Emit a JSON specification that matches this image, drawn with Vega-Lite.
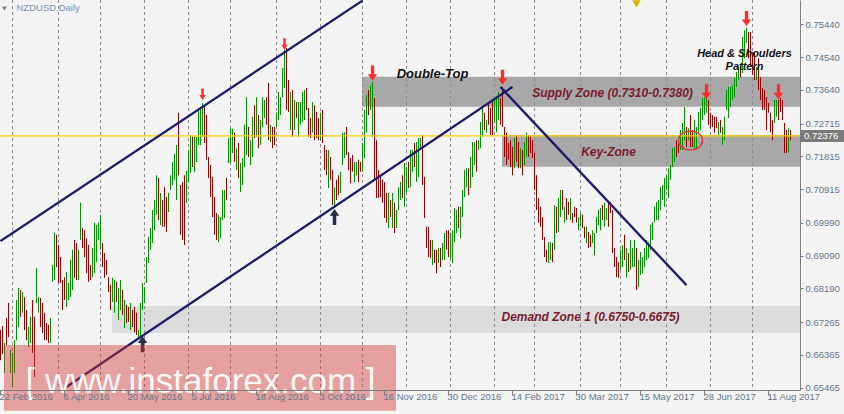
{
"$schema":"https://vega.github.io/schema/vega-lite/v6.json",
"width":800,"height":390,
"autosize":{"type":"none"},
"padding":{"left":0,"top":0,"right":44,"bottom":24},
"background":"#f4f4f4",
"config":{"view":{"stroke":null},"font":"Liberation Sans"},
"datasets":{
"bars":[
{"d":"2016-02-22","h":0.6705,"l":0.6622,"c":"d"},
{"d":"2016-02-23","h":0.6716,"l":0.6639,"c":"d"},
{"d":"2016-02-24","h":0.6669,"l":0.6587,"c":"u"},
{"d":"2016-02-25","h":0.6738,"l":0.6664,"c":"d"},
{"d":"2016-02-26","h":0.6779,"l":0.6686,"c":"d"},
{"d":"2016-02-29","h":0.6650,"l":0.6587,"c":"u"},
{"d":"2016-03-01","h":0.6642,"l":0.6548,"c":"u"},
{"d":"2016-03-02","h":0.6677,"l":0.6587,"c":"u"},
{"d":"2016-03-03","h":0.6787,"l":0.6677,"c":"u"},
{"d":"2016-03-04","h":0.6820,"l":0.6713,"c":"u"},
{"d":"2016-03-07","h":0.6815,"l":0.6741,"c":"d"},
{"d":"2016-03-08","h":0.6809,"l":0.6752,"c":"u"},
{"d":"2016-03-09","h":0.6795,"l":0.6705,"c":"d"},
{"d":"2016-03-10","h":0.6760,"l":0.6677,"c":"d"},
{"d":"2016-03-11","h":0.6713,"l":0.6658,"c":"u"},
{"d":"2016-03-14","h":0.6741,"l":0.6669,"c":"u"},
{"d":"2016-03-15","h":0.6787,"l":0.6642,"c":"d"},
{"d":"2016-03-16","h":0.6741,"l":0.6576,"c":"d"},
{"d":"2016-03-17","h":0.6875,"l":0.6779,"c":"u"},
{"d":"2016-03-18","h":0.6795,"l":0.6752,"c":"u"},
{"d":"2016-03-21","h":0.6793,"l":0.6713,"c":"d"},
{"d":"2016-03-22","h":0.6779,"l":0.6697,"c":"d"},
{"d":"2016-03-23","h":0.6752,"l":0.6677,"c":"d"},
{"d":"2016-03-24","h":0.6724,"l":0.6677,"c":"d"},
{"d":"2016-03-25","h":0.6719,"l":0.6669,"c":"d"},
{"d":"2016-03-28","h":0.6738,"l":0.6669,"c":"u"},
{"d":"2016-03-29","h":0.6883,"l":0.6837,"c":"u"},
{"d":"2016-03-30","h":0.6971,"l":0.6842,"c":"u"},
{"d":"2016-03-31","h":0.6966,"l":0.6878,"c":"d"},
{"d":"2016-04-01","h":0.6938,"l":0.6834,"c":"d"},
{"d":"2016-04-04","h":0.6905,"l":0.6834,"c":"d"},
{"d":"2016-04-05","h":0.6842,"l":0.6760,"c":"d"},
{"d":"2016-04-06","h":0.6850,"l":0.6787,"c":"d"},
{"d":"2016-04-07","h":0.6864,"l":0.6768,"c":"u"},
{"d":"2016-04-08","h":0.6834,"l":0.6787,"c":"u"},
{"d":"2016-04-11","h":0.6897,"l":0.6795,"c":"u"},
{"d":"2016-04-12","h":0.6925,"l":0.6815,"c":"u"},
{"d":"2016-04-13","h":0.6952,"l":0.6848,"c":"d"},
{"d":"2016-04-14","h":0.6944,"l":0.6842,"c":"d"},
{"d":"2016-04-15","h":0.6925,"l":0.6842,"c":"u"},
{"d":"2016-04-18","h":0.7054,"l":0.6952,"c":"u"},
{"d":"2016-04-19","h":0.6985,"l":0.6930,"c":"d"},
{"d":"2016-04-20","h":0.6979,"l":0.6905,"c":"d"},
{"d":"2016-04-21","h":0.6957,"l":0.6861,"c":"d"},
{"d":"2016-04-22","h":0.6938,"l":0.6837,"c":"d"},
{"d":"2016-04-25","h":0.6883,"l":0.6842,"c":"d"},
{"d":"2016-04-26","h":0.6930,"l":0.6850,"c":"u"},
{"d":"2016-04-27","h":0.6999,"l":0.6861,"c":"u"},
{"d":"2016-04-28","h":0.6993,"l":0.6891,"c":"u"},
{"d":"2016-04-29","h":0.6999,"l":0.6952,"c":"u"},
{"d":"2016-05-02","h":0.7021,"l":0.6925,"c":"u"},
{"d":"2016-05-03","h":0.6944,"l":0.6878,"c":"d"},
{"d":"2016-05-04","h":0.6916,"l":0.6848,"c":"d"},
{"d":"2016-05-05","h":0.6897,"l":0.6856,"c":"d"},
{"d":"2016-05-06","h":0.6850,"l":0.6809,"c":"d"},
{"d":"2016-05-09","h":0.6829,"l":0.6760,"c":"d"},
{"d":"2016-05-10","h":0.6848,"l":0.6782,"c":"u"},
{"d":"2016-05-11","h":0.6842,"l":0.6752,"c":"u"},
{"d":"2016-05-12","h":0.6837,"l":0.6782,"c":"d"},
{"d":"2016-05-13","h":0.6820,"l":0.6732,"c":"u"},
{"d":"2016-05-16","h":0.6842,"l":0.6760,"c":"u"},
{"d":"2016-05-17","h":0.6815,"l":0.6746,"c":"d"},
{"d":"2016-05-18","h":0.6787,"l":0.6710,"c":"u"},
{"d":"2016-05-19","h":0.6774,"l":0.6724,"c":"d"},
{"d":"2016-05-20","h":0.6768,"l":0.6727,"c":"d"},
{"d":"2016-05-23","h":0.6779,"l":0.6705,"c":"u"},
{"d":"2016-05-24","h":0.6760,"l":0.6713,"c":"d"},
{"d":"2016-05-25","h":0.6768,"l":0.6699,"c":"d"},
{"d":"2016-05-26","h":0.6752,"l":0.6691,"c":"d"},
{"d":"2016-05-27","h":0.6705,"l":0.6686,"c":"u"},
{"d":"2016-05-30","h":0.6779,"l":0.6683,"c":"u"},
{"d":"2016-05-31","h":0.6834,"l":0.6760,"c":"u"},
{"d":"2016-06-01","h":0.6823,"l":0.6779,"c":"u"},
{"d":"2016-06-02","h":0.6905,"l":0.6834,"c":"u"},
{"d":"2016-06-03","h":0.6960,"l":0.6889,"c":"u"},
{"d":"2016-06-06","h":0.6985,"l":0.6925,"c":"u"},
{"d":"2016-06-07","h":0.7034,"l":0.6944,"c":"u"},
{"d":"2016-06-08","h":0.7062,"l":0.6979,"c":"u"},
{"d":"2016-06-09","h":0.7130,"l":0.7021,"c":"u"},
{"d":"2016-06-10","h":0.7122,"l":0.7007,"c":"d"},
{"d":"2016-06-13","h":0.7081,"l":0.6993,"c":"u"},
{"d":"2016-06-14","h":0.7062,"l":0.6988,"c":"d"},
{"d":"2016-06-15","h":0.7097,"l":0.6988,"c":"d"},
{"d":"2016-06-16","h":0.7070,"l":0.6974,"c":"d"},
{"d":"2016-06-17","h":0.7081,"l":0.7029,"c":"u"},
{"d":"2016-06-20","h":0.7130,"l":0.7089,"c":"u"},
{"d":"2016-06-21","h":0.7166,"l":0.7103,"c":"u"},
{"d":"2016-06-22","h":0.7188,"l":0.7117,"c":"u"},
{"d":"2016-06-23","h":0.7213,"l":0.7062,"c":"u"},
{"d":"2016-06-24","h":0.7301,"l":0.7130,"c":"d"},
{"d":"2016-06-27","h":0.7103,"l":0.6966,"c":"d"},
{"d":"2016-06-28","h":0.7111,"l":0.6952,"c":"d"},
{"d":"2016-06-29","h":0.7130,"l":0.6938,"c":"d"},
{"d":"2016-06-30","h":0.7142,"l":0.7054,"c":"u"},
{"d":"2016-07-01","h":0.7199,"l":0.7111,"c":"u"},
{"d":"2016-07-04","h":0.7240,"l":0.7136,"c":"u"},
{"d":"2016-07-05","h":0.7235,"l":0.7152,"c":"d"},
{"d":"2016-07-06","h":0.7235,"l":0.7138,"c":"u"},
{"d":"2016-07-07","h":0.7235,"l":0.7166,"c":"u"},
{"d":"2016-07-08","h":0.7309,"l":0.7213,"c":"u"},
{"d":"2016-07-11","h":0.7317,"l":0.7213,"c":"u"},
{"d":"2016-07-12","h":0.7328,"l":0.7235,"c":"u"},
{"d":"2016-07-13","h":0.7322,"l":0.7218,"c":"d"},
{"d":"2016-07-14","h":0.7295,"l":0.7172,"c":"d"},
{"d":"2016-07-15","h":0.7180,"l":0.7122,"c":"d"},
{"d":"2016-07-18","h":0.7158,"l":0.7070,"c":"d"},
{"d":"2016-07-19","h":0.7125,"l":0.7015,"c":"d"},
{"d":"2016-07-20","h":0.7070,"l":0.6966,"c":"d"},
{"d":"2016-07-21","h":0.7026,"l":0.6952,"c":"d"},
{"d":"2016-07-22","h":0.7021,"l":0.6946,"c":"u"},
{"d":"2016-07-25","h":0.7015,"l":0.6957,"c":"u"},
{"d":"2016-07-26","h":0.7089,"l":0.7007,"c":"u"},
{"d":"2016-07-27","h":0.7089,"l":0.7012,"c":"u"},
{"d":"2016-07-28","h":0.7122,"l":0.7062,"c":"d"},
{"d":"2016-07-29","h":0.7232,"l":0.7163,"c":"u"},
{"d":"2016-08-01","h":0.7259,"l":0.7166,"c":"u"},
{"d":"2016-08-02","h":0.7257,"l":0.7191,"c":"u"},
{"d":"2016-08-03","h":0.7246,"l":0.7166,"c":"d"},
{"d":"2016-08-04","h":0.7204,"l":0.7144,"c":"u"},
{"d":"2016-08-05","h":0.7218,"l":0.7122,"c":"d"},
{"d":"2016-08-08","h":0.7163,"l":0.7084,"c":"u"},
{"d":"2016-08-09","h":0.7177,"l":0.7103,"c":"u"},
{"d":"2016-08-10","h":0.7268,"l":0.7152,"c":"u"},
{"d":"2016-08-11","h":0.7344,"l":0.7185,"c":"u"},
{"d":"2016-08-12","h":0.7262,"l":0.7180,"c":"d"},
{"d":"2016-08-15","h":0.7226,"l":0.7158,"c":"u"},
{"d":"2016-08-16","h":0.7290,"l":0.7180,"c":"u"},
{"d":"2016-08-17","h":0.7322,"l":0.7232,"c":"d"},
{"d":"2016-08-18","h":0.7344,"l":0.7235,"c":"u"},
{"d":"2016-08-19","h":0.7295,"l":0.7204,"c":"d"},
{"d":"2016-08-22","h":0.7281,"l":0.7213,"c":"u"},
{"d":"2016-08-23","h":0.7344,"l":0.7262,"c":"u"},
{"d":"2016-08-24","h":0.7336,"l":0.7287,"c":"u"},
{"d":"2016-08-25","h":0.7344,"l":0.7268,"c":"d"},
{"d":"2016-08-26","h":0.7383,"l":0.7226,"c":"d"},
{"d":"2016-08-29","h":0.7268,"l":0.7221,"c":"u"},
{"d":"2016-08-30","h":0.7262,"l":0.7204,"c":"d"},
{"d":"2016-08-31","h":0.7262,"l":0.7213,"c":"d"},
{"d":"2016-09-01","h":0.7301,"l":0.7262,"c":"u"},
{"d":"2016-09-02","h":0.7358,"l":0.7281,"c":"u"},
{"d":"2016-09-05","h":0.7344,"l":0.7295,"c":"u"},
{"d":"2016-09-06","h":0.7424,"l":0.7344,"c":"u"},
{"d":"2016-09-07","h":0.7474,"l":0.7369,"c":"u"},
{"d":"2016-09-08","h":0.7479,"l":0.7309,"c":"d"},
{"d":"2016-09-09","h":0.7391,"l":0.7303,"c":"d"},
{"d":"2016-09-12","h":0.7358,"l":0.7254,"c":"u"},
{"d":"2016-09-13","h":0.7364,"l":0.7235,"c":"d"},
{"d":"2016-09-14","h":0.7336,"l":0.7254,"c":"u"},
{"d":"2016-09-15","h":0.7331,"l":0.7287,"c":"d"},
{"d":"2016-09-16","h":0.7331,"l":0.7235,"c":"u"},
{"d":"2016-09-19","h":0.7331,"l":0.7268,"c":"u"},
{"d":"2016-09-20","h":0.7358,"l":0.7276,"c":"u"},
{"d":"2016-09-21","h":0.7364,"l":0.7281,"c":"u"},
{"d":"2016-09-22","h":0.7369,"l":0.7309,"c":"d"},
{"d":"2016-09-23","h":0.7314,"l":0.7235,"c":"d"},
{"d":"2016-09-26","h":0.7287,"l":0.7232,"c":"d"},
{"d":"2016-09-27","h":0.7331,"l":0.7246,"c":"u"},
{"d":"2016-09-28","h":0.7322,"l":0.7226,"c":"d"},
{"d":"2016-09-29","h":0.7303,"l":0.7232,"c":"d"},
{"d":"2016-09-30","h":0.7287,"l":0.7226,"c":"d"},
{"d":"2016-10-03","h":0.7301,"l":0.7226,"c":"u"},
{"d":"2016-10-04","h":0.7309,"l":0.7218,"c":"d"},
{"d":"2016-10-05","h":0.7213,"l":0.7144,"c":"d"},
{"d":"2016-10-06","h":0.7199,"l":0.7130,"c":"d"},
{"d":"2016-10-07","h":0.7199,"l":0.7095,"c":"u"},
{"d":"2016-10-10","h":0.7180,"l":0.7117,"c":"d"},
{"d":"2016-10-11","h":0.7144,"l":0.7048,"c":"d"},
{"d":"2016-10-12","h":0.7097,"l":0.7040,"c":"u"},
{"d":"2016-10-13","h":0.7117,"l":0.7062,"c":"d"},
{"d":"2016-10-14","h":0.7130,"l":0.7075,"c":"d"},
{"d":"2016-10-17","h":0.7139,"l":0.7081,"c":"u"},
{"d":"2016-10-18","h":0.7246,"l":0.7158,"c":"u"},
{"d":"2016-10-19","h":0.7248,"l":0.7177,"c":"u"},
{"d":"2016-10-20","h":0.7262,"l":0.7185,"c":"d"},
{"d":"2016-10-21","h":0.7193,"l":0.7144,"c":"d"},
{"d":"2016-10-24","h":0.7177,"l":0.7108,"c":"d"},
{"d":"2016-10-25","h":0.7185,"l":0.7139,"c":"d"},
{"d":"2016-10-26","h":0.7166,"l":0.7111,"c":"u"},
{"d":"2016-10-27","h":0.7166,"l":0.7130,"c":"u"},
{"d":"2016-10-28","h":0.7172,"l":0.7111,"c":"d"},
{"d":"2016-10-31","h":0.7166,"l":0.7139,"c":"d"},
{"d":"2016-11-01","h":0.7218,"l":0.7139,"c":"u"},
{"d":"2016-11-02","h":0.7309,"l":0.7177,"c":"u"},
{"d":"2016-11-03","h":0.7350,"l":0.7246,"c":"u"},
{"d":"2016-11-04","h":0.7364,"l":0.7295,"c":"d"},
{"d":"2016-11-07","h":0.7377,"l":0.7309,"c":"u"},
{"d":"2016-11-08","h":0.7386,"l":0.7235,"c":"u"},
{"d":"2016-11-09","h":0.7342,"l":0.7117,"c":"d"},
{"d":"2016-11-10","h":0.7226,"l":0.7067,"c":"d"},
{"d":"2016-11-11","h":0.7144,"l":0.7067,"c":"d"},
{"d":"2016-11-14","h":0.7125,"l":0.7070,"c":"d"},
{"d":"2016-11-15","h":0.7117,"l":0.7054,"c":"d"},
{"d":"2016-11-16","h":0.7111,"l":0.7012,"c":"d"},
{"d":"2016-11-17","h":0.7081,"l":0.6999,"c":"d"},
{"d":"2016-11-18","h":0.7081,"l":0.6985,"c":"u"},
{"d":"2016-11-21","h":0.7062,"l":0.7015,"c":"d"},
{"d":"2016-11-22","h":0.7081,"l":0.6985,"c":"u"},
{"d":"2016-11-23","h":0.7054,"l":0.6971,"c":"d"},
{"d":"2016-11-24","h":0.7034,"l":0.6985,"c":"u"},
{"d":"2016-11-25","h":0.7097,"l":0.7034,"c":"u"},
{"d":"2016-11-28","h":0.7111,"l":0.7062,"c":"u"},
{"d":"2016-11-29","h":0.7130,"l":0.7067,"c":"d"},
{"d":"2016-11-30","h":0.7163,"l":0.7043,"c":"u"},
{"d":"2016-12-01","h":0.7152,"l":0.7084,"c":"u"},
{"d":"2016-12-02","h":0.7166,"l":0.7095,"c":"d"},
{"d":"2016-12-05","h":0.7199,"l":0.7097,"c":"u"},
{"d":"2016-12-06","h":0.7199,"l":0.7139,"c":"u"},
{"d":"2016-12-07","h":0.7218,"l":0.7152,"c":"d"},
{"d":"2016-12-08","h":0.7221,"l":0.7111,"c":"u"},
{"d":"2016-12-09","h":0.7232,"l":0.7125,"c":"u"},
{"d":"2016-12-12","h":0.7232,"l":0.7199,"c":"u"},
{"d":"2016-12-13","h":0.7240,"l":0.7103,"c":"d"},
{"d":"2016-12-14","h":0.7125,"l":0.7012,"c":"d"},
{"d":"2016-12-15","h":0.6988,"l":0.6930,"c":"d"},
{"d":"2016-12-16","h":0.6988,"l":0.6905,"c":"d"},
{"d":"2016-12-19","h":0.6952,"l":0.6902,"c":"d"},
{"d":"2016-12-20","h":0.6952,"l":0.6883,"c":"u"},
{"d":"2016-12-21","h":0.6925,"l":0.6889,"c":"d"},
{"d":"2016-12-22","h":0.6925,"l":0.6861,"c":"d"},
{"d":"2016-12-23","h":0.6930,"l":0.6889,"c":"u"},
{"d":"2016-12-26","h":0.6930,"l":0.6878,"c":"d"},
{"d":"2016-12-27","h":0.6944,"l":0.6897,"c":"u"},
{"d":"2016-12-28","h":0.6971,"l":0.6897,"c":"u"},
{"d":"2016-12-29","h":0.6979,"l":0.6925,"c":"d"},
{"d":"2016-12-30","h":0.6979,"l":0.6905,"c":"d"},
{"d":"2017-01-02","h":0.6971,"l":0.6902,"c":"u"},
{"d":"2017-01-03","h":0.6979,"l":0.6889,"c":"u"},
{"d":"2017-01-04","h":0.7040,"l":0.6946,"c":"u"},
{"d":"2017-01-05","h":0.7034,"l":0.6971,"c":"u"},
{"d":"2017-01-06","h":0.7043,"l":0.6985,"c":"d"},
{"d":"2017-01-09","h":0.7043,"l":0.6957,"c":"u"},
{"d":"2017-01-10","h":0.7089,"l":0.7015,"c":"u"},
{"d":"2017-01-11","h":0.7144,"l":0.7070,"c":"u"},
{"d":"2017-01-12","h":0.7149,"l":0.7097,"c":"u"},
{"d":"2017-01-13","h":0.7149,"l":0.7075,"c":"d"},
{"d":"2017-01-16","h":0.7180,"l":0.7095,"c":"u"},
{"d":"2017-01-17","h":0.7221,"l":0.7125,"c":"u"},
{"d":"2017-01-18","h":0.7221,"l":0.7158,"c":"u"},
{"d":"2017-01-19","h":0.7226,"l":0.7139,"c":"d"},
{"d":"2017-01-20","h":0.7226,"l":0.7199,"c":"u"},
{"d":"2017-01-23","h":0.7276,"l":0.7204,"c":"u"},
{"d":"2017-01-24","h":0.7314,"l":0.7235,"c":"u"},
{"d":"2017-01-25","h":0.7301,"l":0.7254,"c":"d"},
{"d":"2017-01-26","h":0.7281,"l":0.7246,"c":"u"},
{"d":"2017-01-27","h":0.7328,"l":0.7268,"c":"d"},
{"d":"2017-01-30","h":0.7314,"l":0.7240,"c":"d"},
{"d":"2017-01-31","h":0.7336,"l":0.7240,"c":"d"},
{"d":"2017-02-01","h":0.7336,"l":0.7273,"c":"u"},
{"d":"2017-02-02","h":0.7344,"l":0.7248,"c":"u"},
{"d":"2017-02-03","h":0.7358,"l":0.7281,"c":"u"},
{"d":"2017-02-06","h":0.7342,"l":0.7268,"c":"d"},
{"d":"2017-02-07","h":0.7372,"l":0.7262,"c":"d"},
{"d":"2017-02-08","h":0.7262,"l":0.7180,"c":"d"},
{"d":"2017-02-09","h":0.7246,"l":0.7158,"c":"d"},
{"d":"2017-02-10","h":0.7218,"l":0.7172,"c":"d"},
{"d":"2017-02-13","h":0.7226,"l":0.7152,"c":"d"},
{"d":"2017-02-14","h":0.7207,"l":0.7130,"c":"d"},
{"d":"2017-02-15","h":0.7232,"l":0.7149,"c":"u"},
{"d":"2017-02-16","h":0.7240,"l":0.7166,"c":"d"},
{"d":"2017-02-17","h":0.7221,"l":0.7149,"c":"d"},
{"d":"2017-02-20","h":0.7204,"l":0.7149,"c":"u"},
{"d":"2017-02-21","h":0.7199,"l":0.7130,"c":"d"},
{"d":"2017-02-22","h":0.7221,"l":0.7158,"c":"u"},
{"d":"2017-02-23","h":0.7246,"l":0.7180,"c":"u"},
{"d":"2017-02-24","h":0.7240,"l":0.7180,"c":"d"},
{"d":"2017-02-27","h":0.7235,"l":0.7191,"c":"d"},
{"d":"2017-02-28","h":0.7226,"l":0.7177,"c":"d"},
{"d":"2017-03-01","h":0.7191,"l":0.7089,"c":"d"},
{"d":"2017-03-02","h":0.7130,"l":0.7034,"c":"d"},
{"d":"2017-03-03","h":0.7067,"l":0.6999,"c":"d"},
{"d":"2017-03-06","h":0.7043,"l":0.6988,"c":"d"},
{"d":"2017-03-07","h":0.7015,"l":0.6952,"c":"d"},
{"d":"2017-03-08","h":0.6960,"l":0.6905,"c":"d"},
{"d":"2017-03-09","h":0.6925,"l":0.6891,"c":"d"},
{"d":"2017-03-10","h":0.6946,"l":0.6889,"c":"u"},
{"d":"2017-03-13","h":0.6946,"l":0.6897,"c":"u"},
{"d":"2017-03-14","h":0.6944,"l":0.6891,"c":"d"},
{"d":"2017-03-15","h":0.7048,"l":0.6925,"c":"u"},
{"d":"2017-03-16","h":0.7043,"l":0.6971,"c":"d"},
{"d":"2017-03-17","h":0.7067,"l":0.6974,"c":"u"},
{"d":"2017-03-20","h":0.7089,"l":0.7015,"c":"u"},
{"d":"2017-03-21","h":0.7089,"l":0.7034,"c":"d"},
{"d":"2017-03-22","h":0.7043,"l":0.6999,"c":"u"},
{"d":"2017-03-23","h":0.7067,"l":0.7007,"c":"d"},
{"d":"2017-03-24","h":0.7056,"l":0.7021,"c":"d"},
{"d":"2017-03-27","h":0.7067,"l":0.7007,"c":"u"},
{"d":"2017-03-28","h":0.7026,"l":0.6999,"c":"d"},
{"d":"2017-03-29","h":0.7043,"l":0.7015,"c":"d"},
{"d":"2017-03-30","h":0.7040,"l":0.6999,"c":"d"},
{"d":"2017-03-31","h":0.7015,"l":0.6979,"c":"u"},
{"d":"2017-04-03","h":0.7026,"l":0.6988,"c":"u"},
{"d":"2017-04-04","h":0.7021,"l":0.6985,"c":"d"},
{"d":"2017-04-05","h":0.6988,"l":0.6957,"c":"d"},
{"d":"2017-04-06","h":0.6988,"l":0.6944,"c":"u"},
{"d":"2017-04-07","h":0.6974,"l":0.6930,"c":"d"},
{"d":"2017-04-10","h":0.6966,"l":0.6933,"c":"d"},
{"d":"2017-04-11","h":0.6979,"l":0.6944,"c":"u"},
{"d":"2017-04-12","h":0.6971,"l":0.6911,"c":"u"},
{"d":"2017-04-13","h":0.7015,"l":0.6971,"c":"u"},
{"d":"2017-04-14","h":0.7034,"l":0.6993,"c":"u"},
{"d":"2017-04-17","h":0.7040,"l":0.6979,"c":"u"},
{"d":"2017-04-18","h":0.7048,"l":0.7007,"c":"d"},
{"d":"2017-04-19","h":0.7054,"l":0.6988,"c":"u"},
{"d":"2017-04-20","h":0.7040,"l":0.7007,"c":"u"},
{"d":"2017-04-21","h":0.7054,"l":0.6988,"c":"d"},
{"d":"2017-04-24","h":0.7056,"l":0.7026,"c":"d"},
{"d":"2017-04-25","h":0.7034,"l":0.6916,"c":"d"},
{"d":"2017-04-26","h":0.6930,"l":0.6878,"c":"d"},
{"d":"2017-04-27","h":0.6905,"l":0.6850,"c":"d"},
{"d":"2017-04-28","h":0.6891,"l":0.6848,"c":"d"},
{"d":"2017-05-01","h":0.6925,"l":0.6870,"c":"u"},
{"d":"2017-05-02","h":0.6938,"l":0.6878,"c":"u"},
{"d":"2017-05-03","h":0.6966,"l":0.6897,"c":"d"},
{"d":"2017-05-04","h":0.6930,"l":0.6848,"c":"u"},
{"d":"2017-05-05","h":0.6916,"l":0.6864,"c":"d"},
{"d":"2017-05-08","h":0.6952,"l":0.6870,"c":"u"},
{"d":"2017-05-09","h":0.6930,"l":0.6878,"c":"u"},
{"d":"2017-05-10","h":0.6952,"l":0.6878,"c":"u"},
{"d":"2017-05-11","h":0.6930,"l":0.6815,"c":"d"},
{"d":"2017-05-12","h":0.6897,"l":0.6823,"c":"u"},
{"d":"2017-05-15","h":0.6919,"l":0.6856,"c":"u"},
{"d":"2017-05-16","h":0.6905,"l":0.6861,"c":"u"},
{"d":"2017-05-17","h":0.6930,"l":0.6878,"c":"u"},
{"d":"2017-05-18","h":0.6952,"l":0.6897,"c":"u"},
{"d":"2017-05-19","h":0.6946,"l":0.6902,"c":"u"},
{"d":"2017-05-22","h":0.6993,"l":0.6925,"c":"u"},
{"d":"2017-05-23","h":0.7001,"l":0.6952,"c":"u"},
{"d":"2017-05-24","h":0.7043,"l":0.7001,"c":"u"},
{"d":"2017-05-25","h":0.7056,"l":0.7007,"c":"u"},
{"d":"2017-05-26","h":0.7062,"l":0.7007,"c":"u"},
{"d":"2017-05-29","h":0.7097,"l":0.7034,"c":"u"},
{"d":"2017-05-30","h":0.7103,"l":0.7062,"c":"u"},
{"d":"2017-05-31","h":0.7122,"l":0.7043,"c":"u"},
{"d":"2017-06-01","h":0.7130,"l":0.7089,"c":"u"},
{"d":"2017-06-02","h":0.7149,"l":0.7067,"c":"u"},
{"d":"2017-06-05","h":0.7158,"l":0.7117,"c":"u"},
{"d":"2017-06-06","h":0.7204,"l":0.7152,"c":"u"},
{"d":"2017-06-07","h":0.7207,"l":0.7166,"c":"u"},
{"d":"2017-06-08","h":0.7226,"l":0.7180,"c":"d"},
{"d":"2017-06-09","h":0.7218,"l":0.7191,"c":"d"},
{"d":"2017-06-12","h":0.7254,"l":0.7199,"c":"u"},
{"d":"2017-06-13","h":0.7273,"l":0.7199,"c":"u"},
{"d":"2017-06-14","h":0.7317,"l":0.7226,"c":"u"},
{"d":"2017-06-15","h":0.7262,"l":0.7207,"c":"d"},
{"d":"2017-06-16","h":0.7259,"l":0.7226,"c":"u"},
{"d":"2017-06-19","h":0.7295,"l":0.7207,"c":"d"},
{"d":"2017-06-20","h":0.7254,"l":0.7207,"c":"d"},
{"d":"2017-06-21","h":0.7281,"l":0.7199,"c":"u"},
{"d":"2017-06-22","h":0.7262,"l":0.7204,"c":"u"},
{"d":"2017-06-23","h":0.7303,"l":0.7246,"c":"u"},
{"d":"2017-06-26","h":0.7314,"l":0.7254,"c":"u"},
{"d":"2017-06-27","h":0.7342,"l":0.7281,"c":"u"},
{"d":"2017-06-28","h":0.7344,"l":0.7295,"c":"u"},
{"d":"2017-06-29","h":0.7355,"l":0.7301,"c":"u"},
{"d":"2017-06-30","h":0.7336,"l":0.7268,"c":"d"},
{"d":"2017-07-03","h":0.7301,"l":0.7259,"c":"d"},
{"d":"2017-07-04","h":0.7295,"l":0.7262,"c":"d"},
{"d":"2017-07-05","h":0.7290,"l":0.7246,"c":"d"},
{"d":"2017-07-06","h":0.7290,"l":0.7259,"c":"d"},
{"d":"2017-07-07","h":0.7276,"l":0.7240,"c":"u"},
{"d":"2017-07-10","h":0.7281,"l":0.7246,"c":"d"},
{"d":"2017-07-11","h":0.7262,"l":0.7213,"c":"u"},
{"d":"2017-07-12","h":0.7290,"l":0.7226,"c":"u"},
{"d":"2017-07-13","h":0.7364,"l":0.7309,"c":"u"},
{"d":"2017-07-14","h":0.7372,"l":0.7287,"c":"u"},
{"d":"2017-07-17","h":0.7372,"l":0.7317,"c":"u"},
{"d":"2017-07-18","h":0.7377,"l":0.7336,"c":"u"},
{"d":"2017-07-19","h":0.7397,"l":0.7344,"c":"u"},
{"d":"2017-07-20","h":0.7413,"l":0.7372,"c":"u"},
{"d":"2017-07-21","h":0.7427,"l":0.7391,"c":"u"},
{"d":"2017-07-24","h":0.7427,"l":0.7399,"c":"d"},
{"d":"2017-07-25","h":0.7509,"l":0.7410,"c":"u"},
{"d":"2017-07-26","h":0.7528,"l":0.7451,"c":"u"},
{"d":"2017-07-27","h":0.7534,"l":0.7493,"c":"u"},
{"d":"2017-07-28","h":0.7523,"l":0.7451,"c":"d"},
{"d":"2017-07-31","h":0.7523,"l":0.7427,"c":"d"},
{"d":"2017-08-01","h":0.7468,"l":0.7405,"c":"d"},
{"d":"2017-08-02","h":0.7465,"l":0.7391,"c":"d"},
{"d":"2017-08-03","h":0.7427,"l":0.7391,"c":"u"},
{"d":"2017-08-04","h":0.7451,"l":0.7364,"c":"d"},
{"d":"2017-08-07","h":0.7399,"l":0.7336,"c":"d"},
{"d":"2017-08-08","h":0.7369,"l":0.7309,"c":"d"},
{"d":"2017-08-09","h":0.7364,"l":0.7309,"c":"d"},
{"d":"2017-08-10","h":0.7344,"l":0.7254,"c":"d"},
{"d":"2017-08-11","h":0.7328,"l":0.7301,"c":"d"},
{"d":"2017-08-14","h":0.7301,"l":0.7248,"c":"d"},
{"d":"2017-08-15","h":0.7281,"l":0.7226,"c":"d"},
{"d":"2017-08-16","h":0.7336,"l":0.7273,"c":"u"},
{"d":"2017-08-17","h":0.7336,"l":0.7290,"c":"u"},
{"d":"2017-08-18","h":0.7336,"l":0.7281,"c":"d"},
{"d":"2017-08-21","h":0.7342,"l":0.7303,"c":"d"},
{"d":"2017-08-22","h":0.7336,"l":0.7281,"c":"d"},
{"d":"2017-08-23","h":0.7273,"l":0.7191,"c":"d"},
{"d":"2017-08-24","h":0.7254,"l":0.7191,"c":"d"},
{"d":"2017-08-25","h":0.7259,"l":0.7193,"c":"u"},
{"d":"2017-08-28","h":0.7254,"l":0.7226,"c":"d"}
],
"grid":[{"d":"2016-03-01"},{"d":"2016-04-01"},{"d":"2016-05-02"},{"d":"2016-06-01"},{"d":"2016-07-01"},{"d":"2016-08-01"},{"d":"2016-09-01"},{"d":"2016-10-03"},{"d":"2016-11-01"},{"d":"2016-12-01"},{"d":"2017-01-02"},{"d":"2017-02-01"},{"d":"2017-03-01"},{"d":"2017-04-03"},{"d":"2017-05-01"},{"d":"2017-06-01"},{"d":"2017-07-03"},{"d":"2017-08-01"}],
"darkZones":[{"d":"2016-11-01","p":0.7400,"p2":0.7318},{"d":"2017-02-07","p":0.7240,"p2":0.7153}],
"lightZones":[{"d":"2016-05-10","p":0.6771,"p2":0.6697}],
"lines":[{"d":"2016-02-22","p":0.6949,"d2":"2016-11-01","p2":0.7609},{"d":"2016-04-06","p":0.6545,"d2":"2017-02-14","p2":0.7372},{"d":"2017-02-06","p":0.7372,"d2":"2017-06-15","p2":0.6828}],
"price":[{"p":0.72376,"t":"0.72376"}],
"bigDown":[{"d":"2016-11-08","p":0.7410},{"d":"2017-02-07","p":0.7399},{"d":"2017-06-29","p":0.7359},{"d":"2017-07-27","p":0.7560},{"d":"2017-08-18","p":0.7359}],
"smallDown":[{"d":"2016-07-12","p":0.7352},{"d":"2016-09-07","p":0.7490}],
"ups":[{"d":"2016-05-31","p":0.6666},{"d":"2016-10-12","p":0.7015}],
"gold":[{"d":"2017-05-11","p":0.7600}],
"ellipse":[{"d":"2017-06-19","p":0.7225}],
"title":[{"d":"2016-03-03","p":0.7589,"t":"NZDUSD,Daily"}],
"tri":[{"d":"2016-02-24","p":0.7587}],
"bigBlack":[{"d":"2016-12-20","p":0.7408,"t":"Double-Top"}],
"smallBlack":[{"d":"2017-07-26","p":0.7463,"t":"Head & Shoulders"},{"d":"2017-07-26","p":0.7426,"t":"Pattern"}],
"redText":[{"d":"2017-04-25","p":0.7355,"t":"Supply Zone (0.7310-0.7380)"},{"d":"2017-04-21","p":0.7194,"t":"Key-Zone"},{"d":"2017-04-10","p":0.6741,"t":"Demand Zone 1 (0.6750-0.6675)"}],
"wmRect":[{"d":"2016-02-24","d2":"2016-11-24","p":0.6664,"p2":0.6483}],
"wmText":[{"d":"2016-07-11","p":0.6532,"t":"[ www.instaforex.com ]"}]
},
"layer":[
{"data":{"name":"darkZones"},"mark":{"type":"rect","color":"#a8a8a8"},
 "encoding":{"x":{"field":"d","type":"ordinal","bandPosition":0,"title":null},"x2":{"value":"width"},"y":{"field":"p","type":"quantitative","title":null},"y2":{"field":"p2"}}},
{"data":{"name":"lightZones"},"mark":{"type":"rect","color":"#dcdcdc"},
 "encoding":{"x":{"field":"d","type":"ordinal","bandPosition":0,"title":null},"x2":{"value":"width"},"y":{"field":"p","type":"quantitative","title":null},"y2":{"field":"p2"}}},
{"data":{"name":"grid"},"mark":{"type":"rule","color":"#8c8c8c","strokeDash":[3,3],"strokeWidth":1},
 "encoding":{"x":{"field":"d","type":"ordinal","bandPosition":0.5,"title":null}}},
{"data":{"name":"bars"},"mark":{"type":"bar"},
 "encoding":{
  "x":{"field":"d","type":"ordinal","title":null,
   "scale":{"type":"band","paddingInner":0.5,"paddingOuter":2.25,"align":0,"round":true},
   "axis":{"orient":"bottom","values":["2016-02-22","2016-04-06","2016-05-20","2016-07-05","2016-08-18","2016-10-03","2016-11-16","2016-12-30","2017-02-14","2017-03-30","2017-05-15","2017-06-28","2017-08-11"],
    "labelExpr":"utcFormat(toDate(datum.value), '%-d %b %Y')","bandPosition":0,"labelAlign":"left","labelAngle":0,"labelOffset":-1,
    "tickSize":5,"tickColor":"#7d7d7d","domainColor":"#7d7d7d","labelColor":"#66768c","labelFontSize":9.5,"labelPadding":1,
    "labelOverlap":false,"labelBound":false,"grid":false,"title":null}},
  "y":{"field":"h","type":"quantitative","title":null,
   "scale":{"domain":[0.65402,0.76107],"nice":false,"zero":false},
   "axis":{"orient":"right","values":[0.65465,0.66365,0.67265,0.6819,0.6909,0.6999,0.70915,0.71815,0.72715,0.7364,0.7454,0.7544],"tickCount":30,
    "format":".5f","tickSize":3,"tickColor":"#7d7d7d","domainColor":"#7d7d7d","labelColor":"#66768c","labelFontSize":9.5,"labelPadding":2,"grid":false,"title":null,"labelFlush":false,"labelOverlap":false,"labelBound":false}},
  "y2":{"field":"l"},
  "color":{"field":"c","type":"nominal","scale":{"domain":["u","d"],"range":["#009400","#990000"]},"legend":null}}},
{"data":{"name":"price"},"mark":{"type":"rule","color":"#ffd200","strokeWidth":1.3},
 "encoding":{"y":{"field":"p","type":"quantitative","title":null}}},
{"data":{"name":"lines"},"mark":{"type":"rule","color":"#1c1c6c","strokeWidth":2.3,"clip":true},
 "encoding":{"x":{"field":"d","type":"ordinal","title":null},"x2":{"field":"d2"},"y":{"field":"p","type":"quantitative","title":null},"y2":{"field":"p2"}}},
{"data":{"name":"ellipse"},"mark":{"type":"point","shape":"M-1,0A1,0.8,0,1,1,1,0A1,0.8,0,1,1,-1,0Z","size":576,"filled":false,"stroke":"#e03a3a","strokeWidth":1.5,"opacity":1},
 "encoding":{"x":{"field":"d","type":"ordinal","title":null},"y":{"field":"p","type":"quantitative","title":null}}},
{"data":{"name":"bigDown"},"mark":{"type":"point","shape":"M-0.22,-1L0.22,-1L0.22,0.15L0.62,0.15L0,1L-0.62,0.15L-0.22,0.15Z","size":225,"filled":true,"color":"#ff2a2a","opacity":1},
 "encoding":{"x":{"field":"d","type":"ordinal","title":null},"y":{"field":"p","type":"quantitative","title":null}}},
{"data":{"name":"smallDown"},"mark":{"type":"point","shape":"M-0.22,-1L0.22,-1L0.22,0.15L0.55,0.15L0,1L-0.55,0.15L-0.22,0.15Z","size":130,"filled":true,"color":"#ff2a2a","opacity":1},
 "encoding":{"x":{"field":"d","type":"ordinal","title":null},"y":{"field":"p","type":"quantitative","title":null}}},
{"data":{"name":"ups"},"mark":{"type":"point","shape":"M0,-1L0.6,-0.15L0.22,-0.15L0.22,1L-0.22,1L-0.22,-0.15L-0.6,-0.15Z","size":256,"filled":true,"color":"#243049","opacity":1},
 "encoding":{"x":{"field":"d","type":"ordinal","title":null},"y":{"field":"p","type":"quantitative","title":null}}},
{"data":{"name":"gold"},"mark":{"type":"point","shape":"triangle-down","size":70,"filled":true,"color":"#d8b400","opacity":1},
 "encoding":{"x":{"field":"d","type":"ordinal","title":null},"y":{"field":"p","type":"quantitative","title":null}}},
{"data":{"name":"tri"},"mark":{"type":"point","shape":"triangle-down","size":22,"filled":true,"color":"#7a7a7a","opacity":1},
 "encoding":{"x":{"field":"d","type":"ordinal","title":null},"y":{"field":"p","type":"quantitative","title":null}}},
{"data":{"name":"title"},"mark":{"type":"text","align":"left","baseline":"middle","fontSize":9.5,"color":"#7d93b3"},
 "encoding":{"x":{"field":"d","type":"ordinal","title":null},"y":{"field":"p","type":"quantitative","title":null},"text":{"field":"t"}}},
{"data":{"name":"bigBlack"},"mark":{"type":"text","align":"center","baseline":"middle","fontSize":13,"fontStyle":"italic","fontWeight":"bold","color":"#111111"},
 "encoding":{"x":{"field":"d","type":"ordinal","title":null},"y":{"field":"p","type":"quantitative","title":null},"text":{"field":"t"}}},
{"data":{"name":"smallBlack"},"mark":{"type":"text","align":"center","baseline":"middle","fontSize":11,"fontStyle":"italic","fontWeight":"bold","color":"#111111"},
 "encoding":{"x":{"field":"d","type":"ordinal","title":null},"y":{"field":"p","type":"quantitative","title":null},"text":{"field":"t"}}},
{"data":{"name":"redText"},"mark":{"type":"text","align":"center","baseline":"middle","fontSize":12,"fontStyle":"italic","fontWeight":"bold","color":"#7a1c2c"},
 "encoding":{"x":{"field":"d","type":"ordinal","title":null},"y":{"field":"p","type":"quantitative","title":null},"text":{"field":"t"}}},
{"data":{"name":"wmRect"},"mark":{"type":"rect","color":"#d03030","opacity":0.43,"clip":false},
 "encoding":{"x":{"field":"d","type":"ordinal","bandPosition":0,"title":null},"x2":{"field":"d2","bandPosition":0},"y":{"field":"p","type":"quantitative","title":null},"y2":{"field":"p2"}}},
{"data":{"name":"wmText"},"mark":{"type":"text","align":"center","baseline":"alphabetic","fontSize":35,"color":"#ffffff","opacity":0.92,"clip":false},
 "encoding":{"x":{"field":"d","type":"ordinal","title":null},"y":{"field":"p","type":"quantitative","title":null},"text":{"field":"t"}}},
{"data":{"name":"price"},"mark":{"type":"rect","color":"#7b7b7b","clip":false,"x2Offset":44,"height":12},
 "encoding":{"x":{"value":"width"},"x2":{"value":"width"},"y":{"field":"p","type":"quantitative","title":null}}},
{"data":{"name":"price"},"mark":{"type":"text","align":"left","baseline":"middle","fontSize":9.5,"color":"#ffffff","xOffset":4,"clip":false},
 "encoding":{"x":{"value":"width"},"y":{"field":"p","type":"quantitative","title":null},"text":{"field":"t"}}}
]
}
